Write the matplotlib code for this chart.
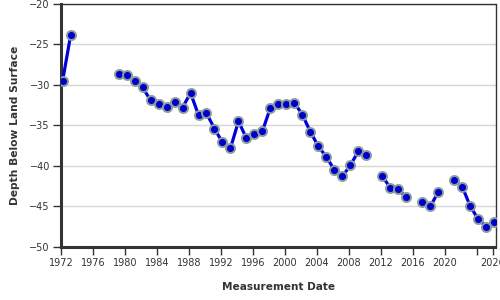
import numpy as np
import matplotlib.pyplot as plt

# measurement dates (decimal years) and depth below land surface (ft)
dates = [1972.2, 1973.2, 1974.2, 1979.2, 1980.2, 1981.2, 1982.2, 1983.2, 1984.2,
         1985.2, 1986.2, 1987.2, 1988.2, 1989.2, 1990.2, 1991.2, 1992.2, 1993.2,
         1994.2, 1995.2, 1996.2, 1997.2, 1998.2, 1999.2, 2000.2, 2001.2, 2002.2,
         2003.2, 2004.2, 2005.2, 2006.2, 2007.2, 2008.2, 2009.2, 2010.2, 2011.2,
         2012.2, 2013.2, 2014.2, 2015.2, 2016.2, 2017.2, 2018.2, 2019.2, 2020.2,
         2021.2, 2022.2, 2023.2, 2024.2, 2025.2, 2026.2]
depth = [-29.5, -23.9, np.nan, -28.6, -28.8, -29.5, -30.3, -31.9, -32.3,
         -32.7, -32.1, -32.8, -31.0, -33.7, -33.5, -35.4, -37.1, -37.8,
         -34.5, -36.6, -36.1, -35.7, -32.8, -32.4, -32.3, -32.2, -33.7,
         -35.8, -37.6, -38.9, -40.5, -41.3, -39.9, -38.2, -38.6, np.nan,
         -41.3, -42.7, -42.9, -43.9, np.nan, -44.5, -45.0, -43.2, np.nan,
         -41.8, -42.6, -45.0, -46.6, -47.5, -46.9]

xticks = [1972, 1976, 1980, 1984, 1988, 1992, 1996, 2000, 2004, 2008, 2012, 2016, 2020, 2024, 2026]
xticklabels = ['1972', '1976', '1980', '1984', '1988', '1992', '1996', '2000', '2004',
               '2008', '2012', '2016', '2020', '', '2026']
yticks = [-50, -45, -40, -35, -30, -25, -20]

fig = plt.figure(figsize=(5, 3), dpi=100)
ax = fig.add_axes([0.122, 0.177, 0.869, 0.81])

ax.plot(dates, depth, color='#0000dd', linewidth=2.3, marker='o', markersize=6.5,
        markerfacecolor='#0000cc', markeredgecolor='#8c9c9c', markeredgewidth=1.4,
        zorder=3)

ax.set_xlim(1972, 2026.35)
ax.set_ylim(-50, -20)
ax.set_xticks(xticks)
ax.set_xticklabels(xticklabels)
ax.set_yticks(yticks)
ax.yaxis.grid(True, color='#d6d6d6', linewidth=1)
ax.set_axisbelow(True)

for s in ['left', 'bottom']:
    ax.spines[s].set_linewidth(2.2)
    ax.spines[s].set_color('#333333')
for s in ['top', 'right']:
    ax.spines[s].set_linewidth(1)
    ax.spines[s].set_color('#333333')

ax.tick_params(axis='both', labelsize=7, colors='#333333', length=6, width=1, pad=2)
ax.set_xlabel('Measurement Date', fontsize=7.6, fontweight='bold', color='#333333', labelpad=10)
ax.set_ylabel('Depth Below Land Surface', fontsize=7.7, fontweight='bold', color='#333333', labelpad=7)

fig.savefig('out.png', dpi=100)
